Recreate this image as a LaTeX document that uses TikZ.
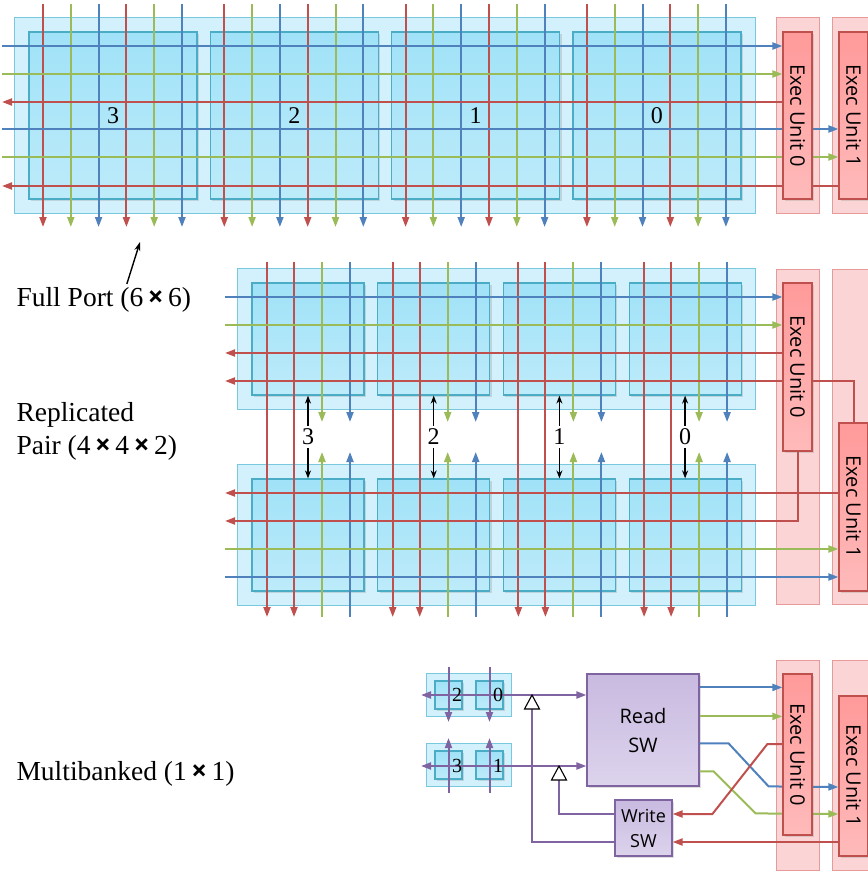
\documentclass[tikz,border=0pt]{standalone}
\usepackage{fontspec}
\setmainfont{Liberation Serif}
\newfontfamily\uifont{Open Sans}
\newcommand{\bytimes}{{\uifont\bfseries ×}}
\usetikzlibrary{positioning, arrows.meta, fit, shadows}

\definecolor{wirered}{HTML}{C0504D}
\definecolor{wiregreen}{HTML}{9BBB59}
\definecolor{wireblue}{HTML}{4F81BD}
\definecolor{wirepurple}{HTML}{8064A2}
\definecolor{bankedge}{HTML}{4BACC6}
\definecolor{banktop}{HTML}{A0E2F8}
\definecolor{bankbot}{HTML}{BDEBFA}
\definecolor{grpfill}{HTML}{D2F1FC}
\definecolor{grpedge}{HTML}{78C8DE}
\definecolor{stripfill}{HTML}{FBD5D5}
\definecolor{stripedge}{HTML}{E69A9A}
\definecolor{eutop}{HTML}{FF9A9A}
\definecolor{eubot}{HTML}{FFBABA}
\definecolor{swtop}{HTML}{C9BAE0}
\definecolor{swbot}{HTML}{DCD3EC}

\pgfdeclarelayer{back}
\pgfdeclarelayer{wiring}
\pgfdeclarelayer{front}
\pgfsetlayers{back,main,wiring,front}

\begin{document}
\begin{tikzpicture}[
  x=1pt, y=-1pt,
  >={Triangle[length=10pt, width=7pt]},
  every node/.style={font=\fontsize{24}{28}\selectfont},
  bank/.style={
    rectangle, draw=bankedge, line width=1.2pt, inner sep=0pt,
    top color=banktop, bottom color=bankbot,
    drop shadow={shadow xshift=2pt, shadow yshift=-2pt, opacity=0.25}
  },
  grp/.style={rectangle, draw=grpedge, fill=grpfill, line width=0.8pt},
  strip/.style={rectangle, draw=stripedge, fill=stripfill, line width=0.8pt,
    minimum width=43, inner sep=0pt},
  eu/.style={
    rectangle, draw=wirered, line width=1.2pt, inner sep=0pt,
    top color=eutop, bottom color=eubot,
    minimum width=29, minimum height=#1,
    drop shadow={shadow xshift=2pt, shadow yshift=-2pt, opacity=0.25},
    font=\uifont\fontsize{20}{24}\selectfont
  },
  sw/.style={
    rectangle, draw=wirepurple, line width=1.2pt, inner sep=0pt,
    top color=swtop, bottom color=swbot, align=center,
    drop shadow={shadow xshift=2pt, shadow yshift=-2pt, opacity=0.25}
  },
  wire/.style={draw=#1, line width=2pt},
  pairarr/.style={-{Stealth[length=8pt, width=6pt]}, line width=1.5pt, black},
  ptr/.style={-{Stealth[length=9pt, width=6pt]}, line width=1.4pt, black},
  buffer/.style={draw=black, fill=white, line width=1.1pt},
  mbnum/.style={inner sep=0pt, font=\fontsize{20}{22}\selectfont},
  sidelbl/.style={anchor=west, align=left, font=\fontsize{27.5}{33}\selectfont},
]
\useasboundingbox (0,0) rectangle (867,872);

%% Full port (6x6)
\foreach \n [count=\k from 0] in {3,2,1,0}
  \node[bank, minimum width=168, minimum height=167] (fp\n) at ({113+181.3*\k}, 115.5) {\n};

\begin{pgfonlayer}{front}
  \node[eu=167] (eua0) at (797.5,115.5) {\rotatebox{-90}{Exec Unit 0}};
  \node[eu=167] (eua1) at (853.5,115.5) {\rotatebox{-90}{Exec Unit 1}};
\end{pgfonlayer}

\begin{pgfonlayer}{back}
  \node[grp, fit=(fp3)(fp0), inner sep=14] (fpgrp) {};
  \node[strip, minimum height=196] (sa0) at (797.5,115) {};
  \node[strip, minimum height=196] (sa1) at (853.5,115) {};
\end{pgfonlayer}

\begin{pgfonlayer}{wiring}
  \foreach \k in {0,...,3}
    \foreach \c [count=\j from 0] in {wirered,wiregreen,wireblue,wirered,wiregreen,wireblue}
      \draw[wire=\c, ->] ({43+181.3*\k+27.8*\j}, 4) -- ++(0,223);
  \foreach \y [count=\i] in {46,74,102,129,157,186}
    \coordinate (fpin\i) at (2,\y);
  \draw[wire=wireblue, ->]  (fpin1) -- (fpin1 -| eua0.west);
  \draw[wire=wiregreen, ->] (fpin2) -- (fpin2 -| eua0.west);
  \draw[wire=wirered, ->]   (fpin3 -| eua0.west) -- (fpin3);
  \draw[wire=wireblue, ->]  (fpin4) -- (fpin4 -| eua1.west);
  \draw[wire=wiregreen, ->] (fpin5) -- (fpin5 -| eua1.west);
  \draw[wire=wirered, ->]   (fpin6 -| eua1.west) -- (fpin6);
\end{pgfonlayer}

%% Replicated pair (4x4x2)
\foreach \n [count=\k from 0] in {3,2,1,0} {
  \node[bank, minimum size=112] (rpu\n) at ({308+125.7*\k}, 339) {};
  \node[bank, minimum size=112] (rpl\n) at ({308+125.7*\k}, 535) {};
  \node[inner sep=3pt] (rpn\n) at ({308+125.7*\k}, 437) {\n};
  \draw[pairarr] (rpn\n.north) -- (rpu\n.south);
  \draw[pairarr] (rpn\n.south) -- (rpl\n.north);
}

\begin{pgfonlayer}{front}
  \node[eu=168] (eub0) at (797.5,367) {\rotatebox{-90}{Exec Unit 0}};
  \node[eu=168] (eub1) at (853.5,507) {\rotatebox{-90}{Exec Unit 1}};
\end{pgfonlayer}

\begin{pgfonlayer}{back}
  \node[grp, fit=(rpu3)(rpu0), inner sep=14] (rpugrp) {};
  \node[grp, fit=(rpl3)(rpl0), inner sep=14] (rplgrp) {};
  \node[strip, minimum height=335] (sb0) at (797.5,436.5) {};
  \node[strip, minimum height=335] (sb1) at (853.5,436.5) {};
\end{pgfonlayer}

\begin{pgfonlayer}{wiring}
  \foreach \k in {0,...,3} {
    \draw[wire=wirered, ->]   ({267+125.7*\k}, 262) -- ++(0,355);
    \draw[wire=wirered, ->]   ({294+125.7*\k}, 262) -- ++(0,355);
    \draw[wire=wiregreen, ->] ({322+125.7*\k}, 262) -- ++(0,160);
    \draw[wire=wireblue, ->]  ({350+125.7*\k}, 262) -- ++(0,160);
    \draw[wire=wiregreen, ->] ({322+125.7*\k}, 617) -- ++(0,-165);
    \draw[wire=wireblue, ->]  ({350+125.7*\k}, 617) -- ++(0,-165);
  }
  \foreach \y [count=\i] in {297,325,353,381,493,521,549,577}
    \coordinate (rpin\i) at (225,\y);
  \draw[wire=wireblue, ->]  (rpin1) -- (rpin1 -| eub0.west);
  \draw[wire=wiregreen, ->] (rpin2) -- (rpin2 -| eub0.west);
  \draw[wire=wirered, ->]   (rpin3 -| eub0.west) -- (rpin3);
  \draw[wire=wirered, ->]   (eub1.north) |- (rpin4);
  \draw[wire=wirered, ->]   (rpin5 -| eub1.west) -- (rpin5);
  \draw[wire=wirered, ->]   (eub0.south) |- (rpin6);
  \draw[wire=wiregreen, ->] (rpin7) -- (rpin7 -| eub1.west);
  \draw[wire=wireblue, ->]  (rpin8) -- (rpin8 -| eub1.west);
\end{pgfonlayer}

%% Multibanked (1x1)
\node[bank, minimum width=27, minimum height=28] (mb2) at (448.5,695) {};
\node[bank, minimum width=27, minimum height=28] (mb0) at (489.5,695) {};
\node[bank, minimum width=27, minimum height=28] (mb3) at (448.5,765) {};
\node[bank, minimum width=27, minimum height=28] (mb1) at (489.5,765) {};

\node[sw, minimum size=112, font=\uifont\fontsize{20}{29}\selectfont] (rsw) at (643,730) {Read\\SW};
\node[sw, minimum width=57, minimum height=56, font=\uifont\fontsize{18}{25}\selectfont] (wsw) at (643.5,828) {Write\\SW};

\begin{pgfonlayer}{front}
  \node[mbnum] (mbt2) at (457,695) {2};
  \node[mbnum] (mbt0) at (498,695) {0};
  \node[mbnum] (mbt3) at (457,766) {3};
  \node[mbnum] (mbt1) at (498,766) {1};
  \node[eu=161] (ec0) at (797.5,754.5) {\rotatebox{-90}{Exec Unit 0}};
  \node[eu=160] (ec1) at (853.5,776) {\rotatebox{-90}{Exec Unit 1}};
\end{pgfonlayer}

\begin{pgfonlayer}{back}
  \node[grp, fit=(mb2)(mb0), inner xsep=8, inner ysep=7] (mbgrpa) {};
  \node[grp, fit=(mb3)(mb1), inner xsep=8, inner ysep=7] (mbgrpb) {};
  \node[strip, minimum height=210] (sc0) at (797.5,765) {};
  \node[strip, minimum height=210] (sc1) at (853.5,765) {};
\end{pgfonlayer}

\begin{pgfonlayer}{wiring}
  \draw[wire=wirepurple, ->] ([yshift=28pt]mb2.center) -- ([yshift=-27pt]mb2.center);
  \draw[wire=wirepurple, ->] ([yshift=28pt]mb0.center) -- ([yshift=-27pt]mb0.center);
  \draw[wire=wirepurple, ->] ([yshift=-28pt]mb3.center) -- ([yshift=27pt]mb3.center);
  \draw[wire=wirepurple, ->] ([yshift=-28pt]mb1.center) -- ([yshift=27pt]mb1.center);
  \coordinate (mbin1) at (421,695);
  \coordinate (mbin2) at (421,766);
  \draw[wire=wirepurple, <->] (mbin1) -- (mbin1 -| rsw.west);
  \draw[wire=wirepurple, <->] (mbin2) -- (mbin2 -| rsw.west);
  % tri-state buffers
  \coordinate (buf1) at (532,709);
  \coordinate (buf2) at (559,780);
  \draw[wire=wirepurple] (buf1) |- ([yshift=-14pt]wsw.west);
  \draw[wire=wirepurple] (buf2) |- ([yshift=14pt]wsw.west);
  \draw[buffer] ([xshift=-7.5pt]buf1) -- ([xshift=7.5pt]buf1) -- ([yshift=14pt]buf1) -- cycle;
  \draw[buffer] ([xshift=-7.5pt]buf2) -- ([xshift=7.5pt]buf2) -- ([yshift=14pt]buf2) -- cycle;
  % read switch outputs
  \coordinate (rso1) at ([yshift=-14pt]rsw.north east);
  \coordinate (rso2) at ([yshift=-43pt]rsw.north east);
  \coordinate (rso3) at ([yshift=-70pt]rsw.north east);
  \coordinate (rso4) at ([yshift=-98pt]rsw.north east);
  \draw[wire=wireblue, ->]  (rso1) -- (rso1 -| ec0.west);
  \draw[wire=wiregreen, ->] (rso2) -- (rso2 -| ec0.west);
  \draw[wire=wireblue, ->]  (rso3) -- ++(29,0) -- ++(40,43) -- ([yshift=-11pt]ec1.west);
  \draw[wire=wiregreen, ->] (rso4) -- ++(14,0) -- ++(42,42) -- ([yshift=-38pt]ec1.west);
  % write-back
  \draw[wire=wirered, ->] ([yshift=10.5pt]ec0.west) -- ++(-15,0) -- ++(-55,70) -- ([yshift=14pt]wsw.east);
  \draw[wire=wirered, ->] ([yshift=-66pt]ec1.west) -- ([yshift=-14pt]wsw.east);
\end{pgfonlayer}

%% Labels
\node[sidelbl] (fplbl) at (13,300) {Full Port (6\,\bytimes\,6)};
\coordinate (fpptr) at (140,242);
\draw[ptr] ([xshift=23pt]fplbl.north) -- (fpptr);
\node[sidelbl] (rplbl) at (13,431) {Replicated\\Pair (4\,\bytimes\,4\,\bytimes\,2)};
\node[sidelbl] (mblbl) at (13,774) {Multibanked (1\,\bytimes\,1)};

\end{tikzpicture}
\end{document}
